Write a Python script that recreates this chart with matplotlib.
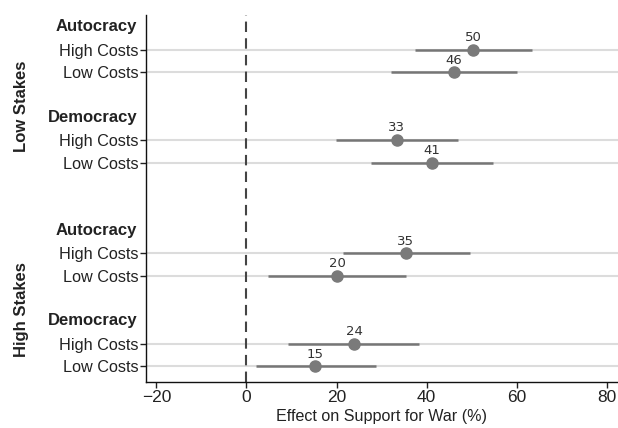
import matplotlib.pyplot as plt
import matplotlib.transforms as mtransforms

plt.rcParams["font.family"] = ["Liberation Sans", "DejaVu Sans"]

# ---------------------------------------------------------------------------
# Data
# ---------------------------------------------------------------------------
stakes = ["Low Stakes", "High Stakes"]
regimes = ["Autocracy", "Democracy"]
costs = ["High Costs", "Low Costs"]

# order: Low/Auto/High, Low/Auto/Low, Low/Dem/High, Low/Dem/Low, then High stakes
estimates = [50.4, 46.1, 33.4, 41.2, 35.4, 20.2, 23.9, 15.3]
ci_low = [37.4, 32.1, 19.8, 27.6, 21.4, 4.8, 9.2, 2.1]
ci_high = [63.5, 60.2, 46.9, 54.7, 49.6, 35.5, 38.4, 28.7]

# vertical slots (top to bottom)
header_pos = [0, 4, 9, 13]
row_pos = [1, 2, 5, 6, 10, 11, 14, 15]
stake_center = [3.5, 12.5]

fig = plt.figure(figsize=(6.18, 4.28), dpi=100)
ax = fig.add_axes([0.2357, 0.1075, 0.764, 0.8575])

for y, est, lo, hi in zip(row_pos, estimates, ci_low, ci_high):
    ax.axhline(y, color="#dcdcdc", lw=1.5, zorder=1)
    ax.plot([lo, hi], [y, y], color="#767676", lw=1.8, zorder=3, solid_capstyle="butt")
    ax.plot(est, y, "o", color="#7a7a7a", ms=8, zorder=4)
    ax.annotate(f"{round(est)}", (est, y), xytext=(0, 4), textcoords="offset points",
                ha="center", va="bottom", fontsize=9.5, color="#333333",
                family=["DejaVu Sans"])

ax.axvline(0, color="#444444", lw=1.5, ls=(0, (5, 3)), zorder=2)

ax.set_xlim(-22.4, 82.5)
ax.set_ylim(15.7, -0.53)
ax.set_xticks([-20, 0, 20, 40, 60, 80])
ax.set_xticklabels(["\u221220", "0", "20", "40", "60", "80"])
ax.tick_params(axis="x", labelsize=12.5, length=4, width=1, colors="#222222", pad=2)

ax.set_yticks(row_pos)
ax.set_yticklabels(costs * 4)
ax.tick_params(axis="y", labelsize=11.7, length=4, width=1, colors="#222222", pad=1)

ax.set_xlabel("Effect on Support for War (%)", fontsize=11.6, color="#222222", labelpad=3)

for side in ["top", "right"]:
    ax.spines[side].set_visible(False)
for side in ["left", "bottom"]:
    ax.spines[side].set_color("#111111")
    ax.spines[side].set_linewidth(1)

# regime headers, right aligned with tick labels
trans = mtransforms.blended_transform_factory(ax.transAxes, ax.transData)
offset = mtransforms.ScaledTranslation(-6 / 72, 0, fig.dpi_scale_trans)
for i, y in enumerate(header_pos):
    ax.text(0, y, regimes[i % 2], transform=trans + offset, ha="right", va="center",
            fontsize=12, fontweight="bold", color="#222222")

# stake group labels
fig_trans = mtransforms.blended_transform_factory(fig.transFigure, ax.transData)
for label, y in zip(stakes, stake_center):
    ax.text(0.034, y, label, transform=fig_trans, rotation=90, ha="center", va="center",
            fontsize=12, fontweight="bold", color="#222222")

fig.savefig("out.png", dpi=100)
